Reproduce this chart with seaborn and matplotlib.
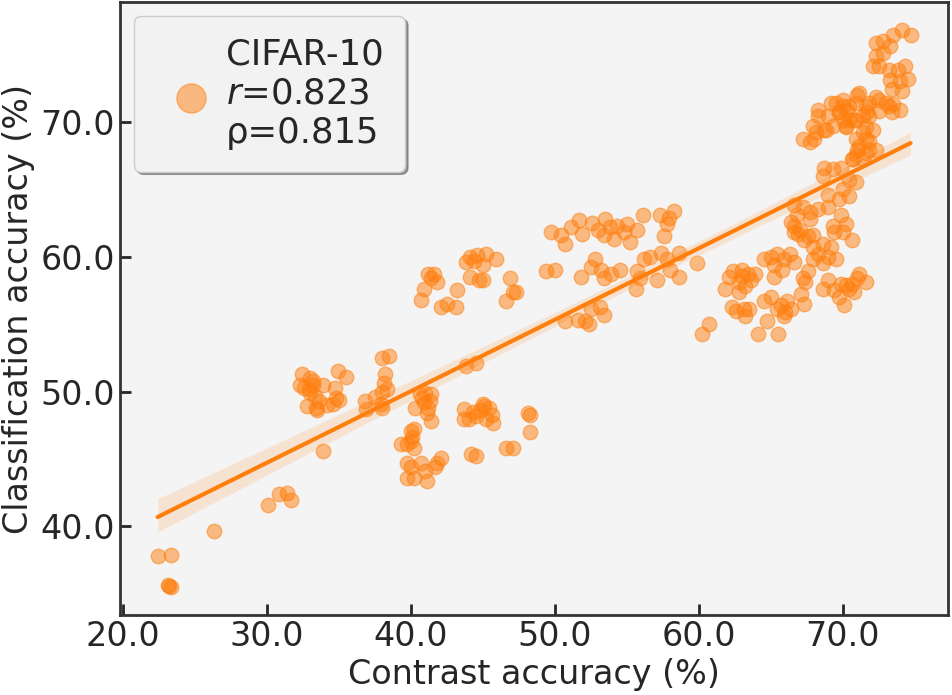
import matplotlib
matplotlib.use("Agg")

import matplotlib.pyplot as plt
import seaborn as sns
import pandas as pd
from matplotlib.ticker import FormatStrFormatter

# values (x: contrast acc, y: classification acc)
contrast_acc = [
    22.4, 23.3, 23.2, 23.3, 23.1, 26.3, 30.1, 30.8, 31.4, 31.7,
    32.4, 33.0, 32.3, 33.2, 33.9, 33.0, 32.8, 33.4, 33.5, 34.9, 35.5, 34.7, 34.8, 34.6, 35.0, 33.9, 32.6, 33.3,
    33.2, 32.9, 34.2, 33.6,
    38.0, 38.5, 38.2, 38.0, 38.3, 37.9, 36.8, 36.9, 38.0, 38.1, 37.5,
    40.6, 41.0, 41.4, 40.3, 40.9, 41.2, 41.4, 41.1, 40.8, 41.3,
    40.0, 40.2, 40.1, 39.3, 39.7, 40.2, 40.0,
    39.7, 40.0, 39.7, 40.2, 40.7, 41.0, 41.1, 41.8, 42.1, 41.7,
    43.7, 44.0, 44.5, 45.0, 45.4, 45.6, 45.7, 45.2, 43.7, 44.2, 44.5, 46.6, 47.1, 48.1, 48.3, 48.3, 43.8, 44.5,
    44.8, 45.1, 44.3,
    41.2, 41.6, 41.8, 40.9, 40.7, 42.1, 42.5, 43.1, 43.2, 43.8, 44.1, 44.6, 45.2, 45.0, 44.1, 44.7, 45.0,
    44.4, 41.4,
    46.9, 47.1, 47.3, 46.6, 49.4, 50.0, 49.7, 50.4, 50.7, 51.1, 51.7, 51.9, 53.0, 53.5, 53.4, 54.3, 54.8,
    55.2, 54.1, 56.1, 57.3, 57.9, 58.3, 57.8, 57.6, 52.8, 52.5, 53.2, 53.9, 53.4, 54.5, 51.8, 55.7, 55.9,
    55.6, 56.2, 56.6, 57.4, 57.8, 58.0, 58.6, 58.6, 57.1, 50.7, 51.6, 52.1, 52.5, 53.1, 53.4, 52.4, 59.9,
    53.8, 52.6, 55.0, 55.7, 45.9, 60.2, 60.7,
    62.4, 63.0, 63.4, 63.9, 62.1, 62.8, 63.2, 61.8, 62.8, 62.3, 63.1, 63.5, 63.2, 64.1, 64.7, 64.5, 65.0,
    65.4, 65.9, 65.5, 66.1, 66.4, 67.1, 67.3, 67.2, 67.6, 67.4, 64.5, 65.0, 65.4, 65.9, 66.3, 66.6, 65.2,
    65.8, 65.2, 68.6, 69.0, 69.4, 69.9, 70.4, 71.0, 71.1, 71.6, 70.1, 69.7, 70.8, 67.3, 67.9, 67.9, 68.6,
    69.2, 68.3, 69.0, 69.5, 67.9, 68.6, 70.6, 66.6, 67.2, 67.7, 68.3, 69.0, 66.6, 67.0, 67.7, 66.8, 69.3,
    69.9, 70.2, 70.0, 69.4, 66.4, 66.6, 66.9, 67.6,
    63.0, 63.6, 65.7, 66.0, 70.2, 70.6, 62.6,
    68.7, 69.3, 69.9, 68.6, 70.4, 70.9, 70.0, 70.4, 69.7, 69.0, 70.9, 71.6, 71.0, 71.8, 70.7, 71.4, 72.3,
    67.2, 67.7, 68.0, 67.9, 68.3, 68.3, 69.0, 68.7, 69.3, 69.5, 70.0, 69.7, 70.4, 70.9, 71.1, 71.6, 71.8,
    72.1, 70.4, 70.9, 70.0, 71.4, 71.8, 70.2, 71.6, 72.5, 73.2, 74.0, 73.4, 69.2, 70.0, 71.0, 70.3, 69.7,
    70.8, 71.7, 72.3, 73.0, 73.5, 72.5, 68.1, 68.8, 70.2, 71.4, 71.1, 71.8, 70.9, 70.6, 71.6,
    72.3, 72.8, 73.5, 74.1, 74.7, 72.3, 72.8, 73.3, 72.1, 72.5, 73.2, 73.8, 74.3, 73.3, 74.0, 74.5, 73.4, 74.1,
]
class_acc = [
    37.8, 37.9, 35.6, 35.5, 35.7, 39.7, 41.6, 42.4, 42.5, 42.0,
    51.3, 51.0, 50.5, 50.5, 50.5, 49.9, 48.9, 48.8, 48.6, 51.5, 51.1, 50.3, 49.5, 49.1, 49.4, 45.6, 50.3, 49.7,
    50.8, 50.2, 49.0, 49.3,
    52.5, 52.6, 51.3, 50.0, 50.2, 49.1, 49.3, 48.7, 48.8, 50.6, 49.6,
    49.8, 49.9, 49.8, 48.8, 49.2, 48.8, 47.8, 48.4, 49.5, 49.3,
    47.1, 47.2, 46.6, 46.1, 46.1, 45.8, 46.3,
    44.7, 44.4, 43.6, 43.6, 44.7, 44.1, 43.4, 44.7, 45.1, 44.4,
    48.7, 48.0, 48.2, 49.1, 48.8, 48.3, 47.7, 48.0, 48.0, 45.4, 45.2, 45.8, 45.8, 48.4, 48.3, 47.0, 51.9, 52.1,
    48.6, 48.9, 48.5,
    58.7, 58.7, 58.1, 57.6, 56.8, 56.3, 56.5, 56.3, 57.5, 59.6, 60.0, 60.1, 60.2, 59.4, 58.5, 58.3, 58.3,
    59.7, 58.4,
    58.4, 57.4, 57.4, 56.7, 58.9, 59.0, 61.8, 61.6, 60.9, 62.2, 62.7, 61.7, 62.0, 62.8, 61.6, 62.3, 61.8,
    61.1, 61.3, 63.1, 63.1, 62.9, 63.4, 62.4, 61.5, 59.8, 59.2, 59.0, 58.7, 58.4, 59.0, 58.5, 58.9, 58.4,
    57.6, 59.8, 60.0, 60.3, 59.8, 59.0, 60.3, 58.5, 58.3, 55.2, 55.3, 55.2, 56.1, 56.3, 55.7, 55.0, 59.5,
    62.2, 62.5, 62.4, 62.0, 59.8, 54.3, 55.0,
    58.9, 59.0, 58.7, 58.7, 58.5, 58.1, 57.8, 57.6, 57.4, 56.3, 56.1, 56.1, 55.6, 54.3, 55.2, 56.7, 57.0,
    56.1, 55.6, 54.3, 56.7, 56.1, 57.2, 56.5, 58.4, 58.9, 58.1, 59.8, 60.0, 60.2, 59.8, 60.2, 59.6, 59.4,
    59.0, 58.5, 57.6, 58.3, 57.5, 58.0, 57.6, 58.4, 58.7, 58.1, 56.4, 57.0, 57.4, 61.2, 61.6, 60.7, 60.9,
    60.7, 60.2, 60.0, 59.8, 59.8, 59.5, 61.2, 63.8, 63.7, 63.3, 63.5, 63.7, 62.3, 62.0, 62.8, 63.1, 62.3,
    63.1, 62.4, 61.8, 61.8, 62.6, 61.8, 61.7, 61.5,
    58.6, 58.3, 56.4, 55.9, 57.9, 58.0, 56.0,
    66.6, 66.5, 66.6, 66.0, 65.7, 65.5, 65.0, 64.5, 64.3, 64.6, 68.7, 68.7, 67.9, 67.9, 67.2, 67.2, 67.9,
    68.7, 68.5, 68.7, 69.7, 70.4, 70.9, 70.4, 69.4, 69.7, 71.4, 71.2, 70.7, 71.2, 71.4, 72.1, 71.2, 70.4,
    69.4, 70.1, 70.1, 70.1, 70.4, 71.4, 69.6, 69.6, 71.6, 71.2, 70.9, 70.7, 71.4, 71.6, 72.0, 70.8, 70.7,
    70.1, 70.7, 71.8, 71.4, 71.3, 70.8, 69.2, 69.4, 69.7, 69.2, 68.2, 68.6, 67.5, 67.2, 67.7,
    75.8, 76.0, 76.4, 76.8, 76.4, 74.9, 75.1, 75.6, 74.1, 74.1, 73.8, 73.8, 74.1, 73.1, 73.0, 73.2, 72.4, 72.3,
]
dataset_name = "CIFAR-10"
pearson_r = 0.823
spearman_rho = 0.815

sns.set_style("ticks", {"axes.facecolor": "#f4f4f4", "axes.edgecolor": "#333333"})

df = pd.DataFrame({"contrast": contrast_acc, "classification": class_acc})

fig, ax = plt.subplots(figsize=(9.52, 6.95), dpi=100)
sns.regplot(
    data=df, x="contrast", y="classification", ax=ax, color="#ff7f0e", seed=0,
    scatter_kws={"s": 110, "alpha": 0.5, "linewidths": 1},
    line_kws={"lw": 3},
    label=f"{dataset_name}\n$r$={pearson_r:.3f}\nρ={spearman_rho:.3f}",
)

ax.set_xlabel("Contrast accuracy (%)", fontsize=24)
ax.set_ylabel("Classification accuracy (%)", fontsize=24)
ax.set_xticks([20, 30, 40, 50, 60, 70])
ax.set_yticks([40, 50, 60, 70])
ax.xaxis.set_major_formatter(FormatStrFormatter("%.1f"))
ax.yaxis.set_major_formatter(FormatStrFormatter("%.1f"))
ax.tick_params(direction="in", length=8, width=2, labelsize=24)
for sp in ax.spines.values():
    sp.set_linewidth(2)

leg = ax.legend(loc="upper left", fontsize=25.5, shadow=True, fancybox=True,
                markerscale=2, facecolor="#f2f2f2", edgecolor="#cccccc", framealpha=1,
                borderaxespad=0.4, borderpad=0.6, handletextpad=0.0)
leg.get_texts()[0].set_linespacing(1.2)

fig.subplots_adjust(left=0.126, right=0.996, top=0.997, bottom=0.115)
fig.savefig("out.png", dpi=100)
